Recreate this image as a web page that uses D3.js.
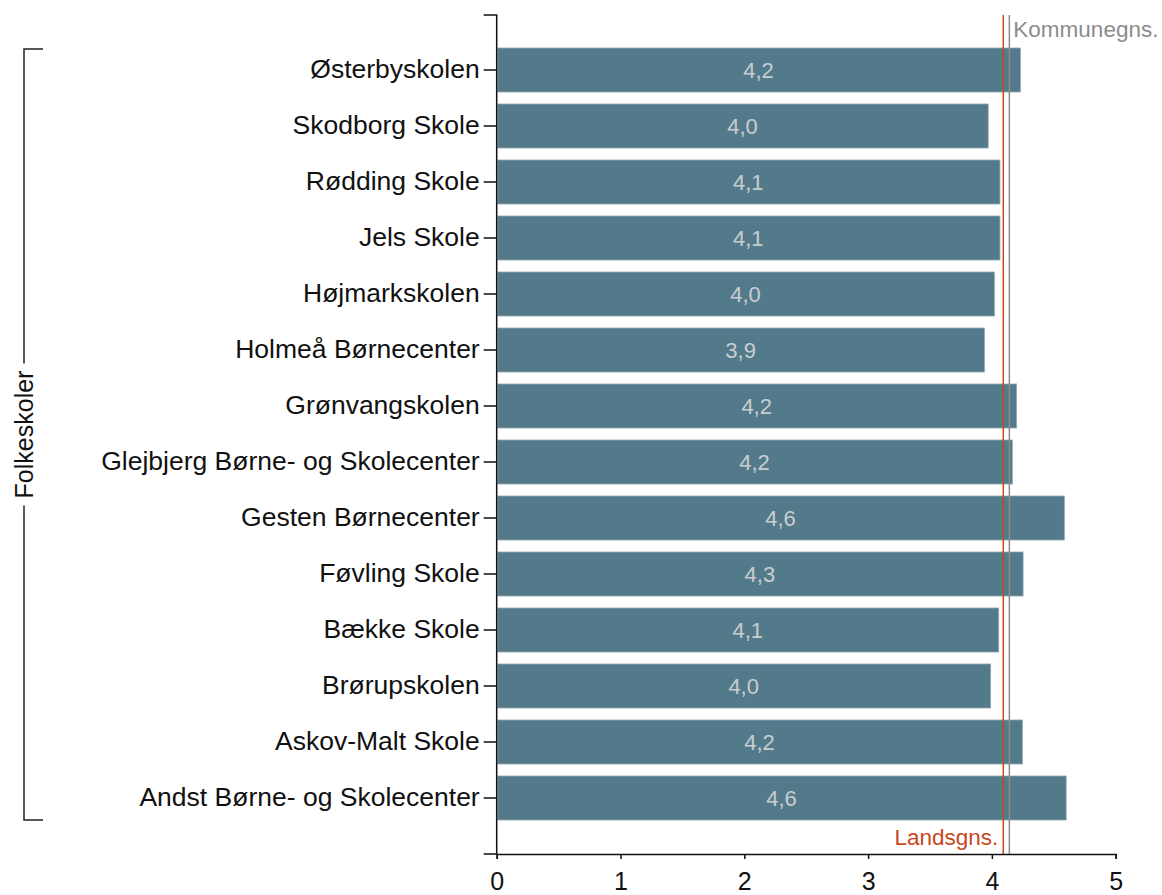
<!DOCTYPE html>
<html><head><meta charset="utf-8">
<script src="https://cdn.jsdelivr.net/npm/d3@7"></script>
<style>body{margin:0;background:#fff;} svg{display:block;}</style>
</head><body>
<svg id="chart" width="1162" height="895"></svg>
<script>
const categories = ["Østerbyskolen","Skodborg Skole","Rødding Skole","Jels Skole","Højmarkskolen","Holmeå Børnecenter","Grønvangskolen","Glejbjerg Børne- og Skolecenter","Gesten Børnecenter","Føvling Skole","Bække Skole","Brørupskolen","Askov-Malt Skole","Andst Børne- og Skolecenter"];
const values = [4.23,3.97,4.065,4.065,4.02,3.94,4.2,4.165,4.585,4.252,4.055,3.99,4.246,4.6];
const xTicks = [0,1,2,3,4,5];
const landsgns = 4.092;
const kommunegns = 4.141;
const groupLabel = "Folkeskoler";

const svg = d3.select("#chart");
const font = "'Liberation Sans', Arial, sans-serif";
const x = d3.scaleLinear().domain([0,5]).range([496.7,1115.7]);
const y = d3.scaleBand().domain(categories).range([42,826]).paddingInner(0.214).paddingOuter(0.107);

// bars
svg.append("g").selectAll("rect").data(values).join("rect")
  .attr("x", x(0)+1).attr("y",(d,i)=>y(categories[i]))
  .attr("width",d=>x(d)-x(0)-1).attr("height",y.bandwidth())
  .attr("fill","#537a8b").attr("stroke","#8fa9b6").attr("stroke-width",0.8);

// value labels
const fmt = d => d3.format(".1f")(d).replace(".",",");
svg.append("g").selectAll("text").data(values).join("text")
  .attr("x",d=>(x(0)+x(d))/2).attr("y",(d,i)=>y(categories[i])+y.bandwidth()/2+8)
  .attr("text-anchor","middle").attr("font-family",font).attr("font-size",22)
  .attr("fill","#c9cdd0").text(fmt);

// reference lines
svg.append("line").attr("x1",x(landsgns)).attr("x2",x(landsgns)).attr("y1",15).attr("y2",854)
  .attr("stroke","#c8461e").attr("stroke-width",1.5);
svg.append("line").attr("x1",x(kommunegns)).attr("x2",x(kommunegns)).attr("y1",15).attr("y2",854)
  .attr("stroke","#8c8c8c").attr("stroke-width",1.5);
svg.append("text").attr("x",x(kommunegns)+4).attr("y",37).attr("font-family",font).attr("font-size",22.5)
  .attr("fill","#8c8c8c").text("Kommunegns.");
svg.append("text").attr("x",x(landsgns)-5).attr("y",845).attr("text-anchor","end").attr("font-family",font).attr("font-size",22.5)
  .attr("fill","#c8461e").text("Landsgns.");

// y axis
const yAxis = svg.append("g").attr("transform",`translate(${x(0)},0)`)
  .call(d3.axisLeft(y).tickSize(13).tickPadding(4).tickSizeOuter(0));
yAxis.select(".domain").attr("d",`M-13,15H0V854H-13`).attr("stroke","#111").attr("stroke-width",1.5);
yAxis.selectAll(".tick line").attr("stroke","#111").attr("stroke-width",1.5);
yAxis.selectAll(".tick text").attr("font-family",font).attr("font-size",26.5).attr("fill","#111");

// x axis
const xAxis = svg.append("g").attr("transform","translate(0,854)")
  .call(d3.axisBottom(x).tickValues(xTicks).tickSize(5).tickPadding(13).tickFormat(d3.format("d")));
xAxis.select(".domain").attr("stroke","#111").attr("stroke-width",1.5);
xAxis.selectAll(".tick line").attr("stroke","#111").attr("stroke-width",1.5);
xAxis.selectAll(".tick text").attr("font-family",font).attr("font-size",25).attr("fill","#111");

// group bracket
const bx = 24, by0 = 49, by1 = 820, bmid = (by0+by1)/2;
const gl = svg.append("text").attr("transform",`translate(${bx+9},${bmid}) rotate(-90)`)
  .attr("text-anchor","middle").attr("font-family",font).attr("font-size",25).attr("fill","#111").text(groupLabel);
const half = gl.node().getComputedTextLength()/2 + 7;
svg.append("path").attr("d",`M43,${by0}H${bx}V${bmid-half}M${bx},${bmid+half}V${by1}H43`)
  .attr("fill","none").attr("stroke","#222").attr("stroke-width",1.5);
</script>
</body></html>
